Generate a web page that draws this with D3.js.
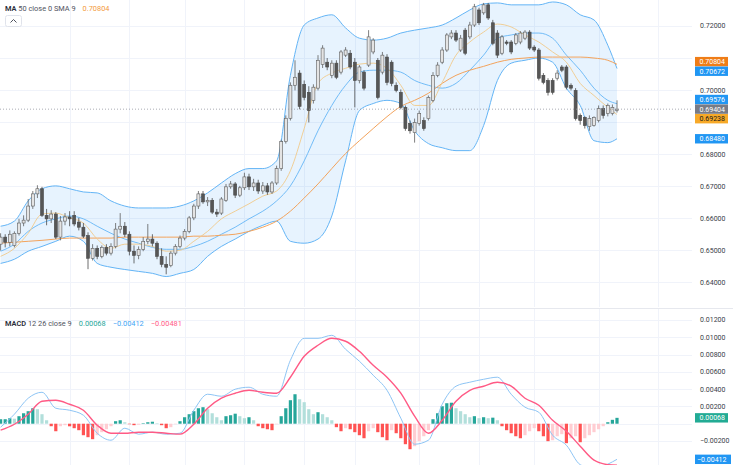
<!DOCTYPE html>
<html><head><meta charset="utf-8">
<script src="https://cdn.jsdelivr.net/npm/d3@7"></script>
<style>
html,body{margin:0;padding:0;background:#fff;overflow:hidden;}
svg{display:block;font-family:Roboto,"Liberation Sans",sans-serif;}
</style></head><body>
<svg id="c" width="733" height="465"></svg>
<script>
// ---------- DATA ----------
// candles: [open, high, low, close]
const ohlc = [
[0.6519,0.6553,0.6499,0.6541],[0.6541,0.6550,0.6509,0.6525],[0.6525,0.6562,0.6512,0.6550],[0.6515,0.6559,0.6509,0.6553],
[0.6553,0.6598,0.6546,0.6585],[0.6585,0.6609,0.6575,0.6594],[0.6594,0.6660,0.6588,0.6638],[0.6638,0.6685,0.6629,0.6676],
[0.6676,0.6703,0.6663,0.6692],[0.6692,0.6698,0.6604,0.6609],[0.6609,0.6629,0.6578,0.6598],[0.6598,0.6625,0.6585,0.6613],
[0.6613,0.6619,0.6535,0.6541],[0.6541,0.6607,0.6531,0.6591],[0.6591,0.6616,0.6578,0.6604],[0.6604,0.6622,0.6575,0.6598],
[0.6609,0.6622,0.6575,0.6582],[0.6588,0.6601,0.6562,0.6572],[0.6572,0.6585,0.6538,0.6544],[0.6546,0.6556,0.6441,0.6475],
[0.6475,0.6519,0.6468,0.6506],[0.6506,0.6515,0.6472,0.6481],[0.6481,0.6515,0.6475,0.6509],[0.6509,0.6519,0.6484,0.6491],
[0.6491,0.6522,0.6484,0.6512],[0.6512,0.6585,0.6506,0.6566],[0.6566,0.6616,0.6553,0.6575],[0.6575,0.6588,0.6541,0.6550],
[0.6550,0.6559,0.6484,0.6497],[0.6497,0.6515,0.6459,0.6484],[0.6484,0.6512,0.6472,0.6503],[0.6503,0.6541,0.6497,0.6528],
[0.6528,0.6582,0.6519,0.6535],[0.6535,0.6550,0.6512,0.6522],[0.6522,0.6528,0.6472,0.6481],[0.6481,0.6506,0.6447,0.6456],
[0.6456,0.6481,0.6425,0.6447],[0.6452,0.6497,0.6447,0.6491],[0.6491,0.6519,0.6484,0.6512],[0.6512,0.6546,0.6506,0.6538],
[0.6538,0.6566,0.6531,0.6559],[0.6559,0.6607,0.6553,0.6601],[0.6601,0.6645,0.6594,0.6638],[0.6638,0.6685,0.6629,0.6676],
[0.6676,0.6685,0.6645,0.6651],[0.6651,0.6666,0.6638,0.6656],[0.6656,0.6663,0.6613,0.6619],[0.6619,0.6629,0.6604,0.6613],
[0.6616,0.6666,0.6610,0.6660],[0.6656,0.6707,0.6651,0.6698],[0.6698,0.6716,0.6692,0.6707],[0.6707,0.6713,0.6663,0.6672],
[0.6672,0.6701,0.6666,0.6695],[0.6695,0.6742,0.6688,0.6729],[0.6729,0.6739,0.6688,0.6698],[0.6698,0.6723,0.6685,0.6710],
[0.6710,0.6720,0.6676,0.6685],[0.6685,0.6713,0.6676,0.6701],[0.6701,0.6710,0.6673,0.6682],[0.6682,0.6716,0.6676,0.6710],
[0.6710,0.6764,0.6704,0.6755],[0.6755,0.6845,0.6748,0.6839],[0.6839,0.6921,0.6833,0.6912],[0.6912,0.7024,0.6905,0.7015],
[0.7015,0.7093,0.6999,0.7040],[0.7053,0.7062,0.6940,0.6949],[0.7018,0.7030,0.6968,0.6977],[0.6993,0.7012,0.6899,0.6936],
[0.6968,0.7018,0.6958,0.7009],[0.7006,0.7109,0.6999,0.7093],[0.7080,0.7140,0.7069,0.7131],[0.7087,0.7100,0.7062,0.7072],
[0.7046,0.7093,0.7037,0.7084],[0.7084,0.7093,0.7034,0.7040],[0.7056,0.7125,0.7049,0.7119],[0.7109,0.7134,0.7103,0.7125],
[0.7115,0.7125,0.7065,0.7072],[0.7087,0.7100,0.6946,0.7030],[0.7030,0.7078,0.7021,0.7072],[0.7056,0.7062,0.6999,0.7006],
[0.7078,0.7187,0.7072,0.7166],[0.7119,0.7162,0.7112,0.7156],[0.7093,0.7100,0.6971,0.6977],[0.7056,0.7119,0.7049,0.7109],
[0.7103,0.7112,0.7015,0.7024],[0.7087,0.7093,0.7012,0.7021],[0.7015,0.7024,0.6993,0.6999],[0.6993,0.7002,0.6940,0.6946],
[0.6946,0.6952,0.6873,0.6880],[0.6896,0.6905,0.6864,0.6873],[0.6867,0.6911,0.6836,0.6899],[0.6896,0.6936,0.6889,0.6927],
[0.6905,0.6915,0.6873,0.6880],[0.6911,0.6983,0.6905,0.6977],[0.6968,0.7056,0.6962,0.7046],[0.7046,0.7087,0.7040,0.7078],
[0.7087,0.7134,0.7081,0.7125],[0.7125,0.7178,0.7119,0.7172],[0.7166,0.7187,0.7159,0.7178],[0.7178,0.7187,0.7150,0.7156],
[0.7125,0.7172,0.7119,0.7162],[0.7187,0.7194,0.7109,0.7115],[0.7166,0.7213,0.7159,0.7203],[0.7203,0.7269,0.7197,0.7260],
[0.7250,0.7257,0.7203,0.7210],[0.7241,0.7272,0.7235,0.7266],[0.7266,0.7272,0.7219,0.7225],[0.7210,0.7219,0.7140,0.7146],
[0.7178,0.7187,0.7100,0.7109],[0.7115,0.7172,0.7109,0.7166],[0.7150,0.7156,0.7140,0.7146],[0.7150,0.7156,0.7112,0.7119],
[0.7146,0.7178,0.7140,0.7172],[0.7150,0.7184,0.7143,0.7178],[0.7162,0.7187,0.7156,0.7181],[0.7181,0.7187,0.7125,0.7131],
[0.7134,0.7140,0.7119,0.7125],[0.7125,0.7131,0.7030,0.7037],[0.7046,0.7053,0.7018,0.7024],[0.7030,0.7037,0.6983,0.6993],
[0.7030,0.7037,0.6986,0.6993],[0.7037,0.7062,0.7030,0.7053],[0.7072,0.7078,0.7056,0.7062],[0.7072,0.7078,0.7002,0.7009],
[0.7015,0.7021,0.6999,0.7006],[0.6999,0.7006,0.6905,0.6911],[0.6921,0.6927,0.6892,0.6905],[0.6915,0.6918,0.6880,0.6889],
[0.6886,0.6921,0.6873,0.6911],[0.6889,0.6918,0.6886,0.6915],[0.6905,0.6952,0.6899,0.6942],[0.6942,0.6952,0.6911,0.6921],
[0.6927,0.6958,0.6918,0.6952],[0.6927,0.6955,0.6921,0.6946],[0.6936,0.6968,0.6930,0.69404]
];

// bar indices at which the indicator lines below are read
const lineIdx = [0,3,6,9,12,15,18,21,24,27,30,33,36,39,42,45,48,51,54,57,60,63,66,69,72,75,78,81,84,87,90,93,96,99,102,105,108,111,114,117,120,123,126,129,132,134];

const bbUpper = [0.6575,0.6591,0.6654,0.6692,0.6701,0.6692,0.6682,0.6679,0.6654,0.6638,0.6632,0.6632,0.6632,0.6638,0.6654,0.6679,0.6710,0.6739,0.6755,0.6755,0.6779,0.7046,0.7203,0.7225,0.7235,0.7194,0.7162,0.7156,0.7162,0.7178,0.7187,0.7194,0.7203,0.7225,0.7250,0.7269,0.7272,0.7266,0.7266,0.7266,0.7275,0.7266,0.7235,0.7219,0.7140,0.70672];
const bbBasis = [0.6497,0.6519,0.6559,0.6585,0.6598,0.6607,0.6598,0.6575,0.6553,0.6535,0.6522,0.6509,0.6503,0.6503,0.6512,0.6528,0.6550,0.6572,0.6598,0.6622,0.6654,0.6701,0.6779,0.6873,0.6952,0.7015,0.7056,0.7062,0.7062,0.7056,0.7030,0.7015,0.7006,0.7021,0.7062,0.7109,0.7162,0.7172,0.7178,0.7178,0.7162,0.7109,0.7062,0.7006,0.6968,0.69576];
const bbLower = [0.6459,0.6472,0.6497,0.6512,0.6528,0.6544,0.6528,0.6459,0.6447,0.6440,0.6434,0.6428,0.6418,0.6428,0.6440,0.6481,0.6512,0.6535,0.6559,0.6578,0.6591,0.6528,0.6522,0.6535,0.6607,0.6779,0.6936,0.6958,0.6968,0.6958,0.6873,0.6833,0.6820,0.6811,0.6811,0.6889,0.7030,0.7084,0.7093,0.7100,0.7087,0.7006,0.6952,0.6842,0.6836,0.68480];
const maSlow = [0.6522,0.6525,0.6528,0.6531,0.6535,0.6538,0.6538,0.6538,0.6538,0.6541,0.6541,0.6541,0.6541,0.6541,0.6544,0.6544,0.6547,0.6550,0.6559,0.6572,0.6591,0.6622,0.6663,0.6707,0.6755,0.6802,0.6842,0.6880,0.6917,0.6949,0.6968,0.6990,0.7021,0.7046,0.7062,0.7074,0.7087,0.7096,0.7100,0.7103,0.7103,0.7103,0.7103,0.7100,0.7093,0.70804];
const maFast = [0.6481,0.6506,0.6553,0.6613,0.6616,0.6601,0.6585,0.6535,0.6506,0.6519,0.6519,0.6512,0.6497,0.6500,0.6528,0.6559,0.6598,0.6622,0.6645,0.6669,0.6685,0.6748,0.6880,0.7021,0.7053,0.7068,0.7081,0.7084,0.7068,0.7015,0.6952,0.6952,0.7024,0.7109,0.7150,0.7181,0.7206,0.7197,0.7172,0.7150,0.7119,0.7087,0.7021,0.6983,0.6946,0.69238];

const macdLine = [-0.00040,0.00110,0.00295,0.00364,0.00179,0.00156,0.00098,-0.00110,-0.00191,-0.00052,-0.00121,-0.00098,-0.00121,-0.00110,0.00156,0.00341,0.00318,0.00399,0.00422,0.00341,0.00318,0.00734,0.00988,0.00988,0.01023,0.00861,0.00723,0.00561,0.00387,0.00064,-0.00237,-0.00191,0.00225,0.00434,0.00480,0.00514,0.00538,0.00341,0.00191,0.00133,-0.00133,-0.00249,-0.00474,-0.00520,-0.00468,-0.00412];
const signalLine = [-0.00075,-0.00006,0.00110,0.00260,0.00272,0.00225,0.00156,-0.00017,-0.00110,-0.00110,-0.00098,-0.00098,-0.00110,-0.00121,-0.00006,0.00179,0.00295,0.00353,0.00387,0.00364,0.00353,0.00538,0.00780,0.00908,0.00988,0.00954,0.00838,0.00676,0.00538,0.00353,0.00087,-0.00110,0.00040,0.00260,0.00387,0.00434,0.00480,0.00434,0.00295,0.00214,0.00040,-0.00087,-0.00260,-0.00422,-0.00474,-0.00481];
const histogram = [
0.00052,0.00052,0.00064,0.00058,0.00087,0.00121,0.00145,0.00179,0.00168,0.00110,
0.00040,-0.00029,-0.00087,-0.00029,-0.00017,-0.00030,-0.00052,-0.00075,-0.00133,-0.00156,
-0.00179,-0.00133,-0.00098,-0.00064,-0.00029,0.00029,0.00040,0.00017,-0.00006,-0.00017,
-0.00012,0.00006,0.00017,0.00023,0.00006,-0.00017,-0.00052,-0.00040,-0.00006,0.00029,
0.00075,0.00110,0.00145,0.00179,0.00191,0.00168,0.00121,0.00075,0.00040,0.00087,
0.00098,0.00116,0.00087,0.00064,0.00075,0.00040,-0.00029,-0.00052,-0.00064,-0.00075,
-0.00006,0.00087,0.00179,0.00272,0.00341,0.00283,0.00249,0.00168,0.00110,0.00133,
0.00110,0.00075,0.00040,-0.00040,-0.00087,-0.00052,-0.00064,-0.00098,-0.00133,-0.00168,
-0.00087,-0.00052,-0.00098,-0.00156,-0.00191,-0.00075,-0.00110,-0.00168,-0.00237,-0.00295,
-0.00260,-0.00202,-0.00145,-0.00075,0.00052,0.00121,0.00202,0.00237,0.00243,0.00179,
0.00145,0.00110,0.00075,0.00087,0.00064,0.00075,0.00064,0.00070,0.00040,-0.00029,
-0.00075,-0.00110,-0.00145,-0.00168,-0.00133,-0.00087,-0.00052,-0.00087,-0.00145,-0.00202,
-0.00191,-0.00145,-0.00121,-0.00225,-0.00168,-0.00145,-0.00214,-0.00168,-0.00133,-0.00098,
-0.00064,-0.00029,0.00017,0.00045,0.00068];

const priceTicks = [0.64,0.65,0.66,0.67,0.68,0.69,0.70,0.71,0.72];
const macdTicks = [-0.002,0,0.002,0.004,0.006,0.008,0.010,0.012];
const timeGridIdx = [15,28,40,53,66,77,91,104,116,130,143];
const priceLegend = ["MA", " 50 close 0 SMA 9"];
const macdLegend = ["MACD", " 12 26 close 9"];

// ---------- LAYOUT ----------
const svg = d3.select('#c');
const N = ohlc.length;
const plotRight = 692;
const pricePane = {top:0, bottom:307};
const macdPane = {top:309, bottom:465};
const x = d3.scaleLinear().domain([0, N-1]).range([0.6, 617]);
const yP = d3.scaleLinear().domain([0.64, 0.72]).range([282.3, 26]);
const yM = d3.scaleLinear().domain([-0.002, 0.012]).range([441, 320]);
const fmt = v => (v < 0 ? "\u2212" : "") + Math.abs(v).toFixed(5);

const C = {
  grid:"#f0f3fa", text:"#3a3e48",
  band:"#64b5f6", bandFill:"rgba(33,150,243,0.11)", basis:"#64b5f6",
  slow:"#f3a35c", fast:"#f1c98a",
  slowLbl:"#ef7d17", fastLbl:"#f7a928", blueLbl:"#2196f3", grayLbl:"#787b86",
  upFill:"#e4e4e4", upLine:"#5d5d5d", dnFill:"#565656", dnLine:"#4a4a4a",
  macd:"#8ec5f5", signal:"#ff5a85",
  hUp:"#26a69a", hUpL:"#b2dfdb", hDn:"#ff5252", hDnL:"#ffcdd2"
};

const defs = svg.append('defs');
defs.append('clipPath').attr('id','cp').append('rect').attr('x',0).attr('y',pricePane.top).attr('width',plotRight).attr('height',pricePane.bottom-pricePane.top);
defs.append('clipPath').attr('id','cm').append('rect').attr('x',0).attr('y',macdPane.top).attr('width',plotRight).attr('height',macdPane.bottom-macdPane.top);

// grids
const g = svg.append('g');
g.selectAll('.hp').data(priceTicks).join('line')
  .attr('x1',0).attr('x2',plotRight).attr('y1',d=>Math.round(yP(d))+0.5).attr('y2',d=>Math.round(yP(d))+0.5)
  .attr('stroke',C.grid);
g.selectAll('.hm').data(macdTicks).join('line')
  .attr('x1',0).attr('x2',plotRight).attr('y1',d=>Math.round(yM(d))+0.5).attr('y2',d=>Math.round(yM(d))+0.5)
  .attr('stroke',C.grid);
[pricePane, macdPane].forEach(p=>{
  g.append('g').selectAll('line').data(timeGridIdx).join('line')
    .attr('x1',d=>Math.round(x(d))+0.5).attr('x2',d=>Math.round(x(d))+0.5)
    .attr('y1',p.top).attr('y2',p.bottom).attr('stroke',C.grid);
});
svg.append('line').attr('x1',0).attr('x2',733).attr('y1',308.5).attr('y2',308.5).attr('stroke','#e6e8ee');

// price pane
const pp = svg.append('g').attr('clip-path','url(#cp)');
const pts = arr => lineIdx.map((k,j)=>[k, arr[j]]);
const area = d3.area().x(d=>x(d[0])).y0(d=>yP(d[1])).y1(d=>yP(d[2])).curve(d3.curveMonotoneX);
pp.append('path').datum(lineIdx.map((k,j)=>[k,bbUpper[j],bbLower[j]])).attr('d',area).attr('fill',C.bandFill);
const lineP = d3.line().x(d=>x(d[0])).y(d=>yP(d[1])).curve(d3.curveMonotoneX);
pp.append('path').datum(pts(bbUpper)).attr('d',lineP).attr('fill','none').attr('stroke',C.band).attr('stroke-width',1);
pp.append('path').datum(pts(bbLower)).attr('d',lineP).attr('fill','none').attr('stroke',C.band).attr('stroke-width',1);
pp.append('path').datum(pts(bbBasis)).attr('d',lineP).attr('fill','none').attr('stroke',C.basis).attr('stroke-width',0.9);
pp.append('path').datum(pts(maSlow)).attr('d',lineP).attr('fill','none').attr('stroke',C.slow).attr('stroke-width',1);
pp.append('path').datum(pts(maFast)).attr('d',lineP).attr('fill','none').attr('stroke',C.fast).attr('stroke-width',0.9);

// candles
const cg = pp.append('g');
const bw = 3;
cg.selectAll('line').data(ohlc).join('line')
  .attr('x1',(d,i)=>x(i)).attr('x2',(d,i)=>x(i))
  .attr('y1',d=>yP(d[1])).attr('y2',d=>yP(d[2]))
  .attr('stroke',d=>d[3]>=d[0]?C.upLine:C.dnLine).attr('stroke-width',0.8);
cg.selectAll('rect').data(ohlc).join('rect')
  .attr('x',(d,i)=>x(i)-bw/2).attr('width',bw)
  .attr('y',d=>yP(Math.max(d[0],d[3])))
  .attr('height',d=>Math.max(0.8, Math.abs(yP(d[0])-yP(d[3]))))
  .attr('fill',d=>d[3]>=d[0]?C.upFill:C.dnFill)
  .attr('stroke',d=>d[3]>=d[0]?C.upLine:C.dnLine).attr('stroke-width',0.6);

// last price dotted line
const lastClose = ohlc[N-1][3];
svg.append('line').attr('x1',0).attr('x2',plotRight).attr('y1',yP(lastClose)).attr('y2',yP(lastClose))
  .attr('stroke','#9598a1').attr('stroke-width',0.8).attr('stroke-dasharray','1,2');

// macd pane
const mp = svg.append('g').attr('clip-path','url(#cm)');
mp.selectAll('rect').data(histogram).join('rect')
  .attr('x',(d,i)=>x(i)-1.6).attr('width',3.2)
  .attr('y',d=>Math.min(yM(d),yM(0))).attr('height',d=>Math.abs(yM(d)-yM(0)))
  .attr('fill',(d,i)=>{
    const prev = i>0?histogram[i-1]:d;
    if (d>=0) return d>=prev?C.hUp:C.hUpL;
    return d<prev?C.hDn:C.hDnL;
  });
const lineM = d3.line().x(d=>x(d[0])).y(d=>yM(d[1])).curve(d3.curveMonotoneX);
mp.append('path').datum(pts(macdLine)).attr('d',lineM).attr('fill','none').attr('stroke',C.macd).attr('stroke-width',1);
mp.append('path').datum(pts(signalLine)).attr('d',lineM).attr('fill','none').attr('stroke',C.signal).attr('stroke-width',1.4);

// value labels on the scale (simple overlap avoidance)
function placeLabels(list, gap){
  list.sort((a,b)=>a.y-b.y);
  for (let it=0; it<50; it++){
    let moved=false;
    for (let k=1;k<list.length;k++){
      const d = list[k].y - list[k-1].y;
      if (d < gap){ const s=(gap-d)/2; list[k].y+=s; list[k-1].y-=s; moved=true; }
    }
    if(!moved) break;
  }
  return list;
}
const priceLabels = placeLabels([
  {v:maSlow[maSlow.length-1], y:yP(maSlow[maSlow.length-1]), bg:C.slowLbl, fg:"#fff"},
  {v:bbUpper[bbUpper.length-1], y:yP(bbUpper[bbUpper.length-1]), bg:C.blueLbl, fg:"#fff"},
  {v:bbBasis[bbBasis.length-1], y:yP(bbBasis[bbBasis.length-1]), bg:C.blueLbl, fg:"#fff"},
  {v:lastClose, y:yP(lastClose), bg:C.grayLbl, fg:"#fff"},
  {v:maFast[maFast.length-1], y:yP(maFast[maFast.length-1]), bg:C.fastLbl, fg:"#1a1a1a"},
  {v:bbLower[bbLower.length-1], y:yP(bbLower[bbLower.length-1]), bg:C.blueLbl, fg:"#fff"}
], 9.6);
const macdLabels = placeLabels([
  {v:histogram[N-1], y:yM(histogram[N-1]), bg:"#22ab94", fg:"#fff"},
  {v:macdLine[macdLine.length-1], y:yM(macdLine[macdLine.length-1]), bg:C.blueLbl, fg:"#fff"}
], 9.6);

// axis tick labels (those hidden under a value label are not drawn)
const axisX = 700;
const allLbl = [...priceLabels, ...macdLabels];
const free = yy => allLbl.every(l => Math.abs(l.y - yy) > 8.5);
svg.append('g').selectAll('text').data(priceTicks.filter(d=>free(yP(d)))).join('text')
  .attr('x',axisX).attr('y',d=>yP(d)).attr('dy','0.35em')
  .attr('font-size',7).attr('fill',C.text).text(d=>d.toFixed(5));
svg.append('g').selectAll('text').data(macdTicks.filter(d=>free(yM(d)))).join('text')
  .attr('x',axisX).attr('y',d=>yM(d)).attr('dy','0.35em')
  .attr('font-size',7).attr('fill',C.text).text(d=>fmt(d));

allLbl.forEach(l=>{
  const t = fmt(l.v);
  const w = t.length>7 ? 36 : 33;
  svg.append('rect').attr('x',695).attr('y',l.y-4.7).attr('width',w).attr('height',9.4).attr('fill',l.bg);
  svg.append('text').attr('x',t.length>7?697:axisX-0.5).attr('y',l.y).attr('dy','0.35em')
    .attr('font-size',7).attr('fill',l.fg).text(t);
});

// legends
function legend(y, parts, values){
  const t = svg.append('text').attr('x',5).attr('y',y).attr('font-size',7.4).attr('fill','#2a2e39');
  t.append('tspan').attr('font-weight',600).text(parts[0]);
  t.append('tspan').attr('fill','#50535e').text(parts[1]);
  values.forEach(v=>t.append('tspan').attr('dx',7).attr('fill',v.c).text(fmt(v.v)));
}
legend(10.5, priceLegend, [{v:maSlow[maSlow.length-1], c:"#f39a3c"}]);
legend(325.5, macdLegend, [
  {v:histogram[N-1], c:"#26a69a"},
  {v:macdLine[macdLine.length-1], c:"#42a5f5"},
  {v:signalLine[signalLine.length-1], c:"#ff5a85"}
]);

// collapse button
svg.append('rect').attr('x',5.5).attr('y',15.5).attr('width',16).attr('height',11).attr('rx',2)
  .attr('fill','#fff').attr('stroke','#e0e3eb');
svg.append('path').attr('d','M10.5 22.5 L13.5 19.5 L16.5 22.5').attr('fill','none').attr('stroke','#50535e').attr('stroke-width',1);
</script>
</body></html>
